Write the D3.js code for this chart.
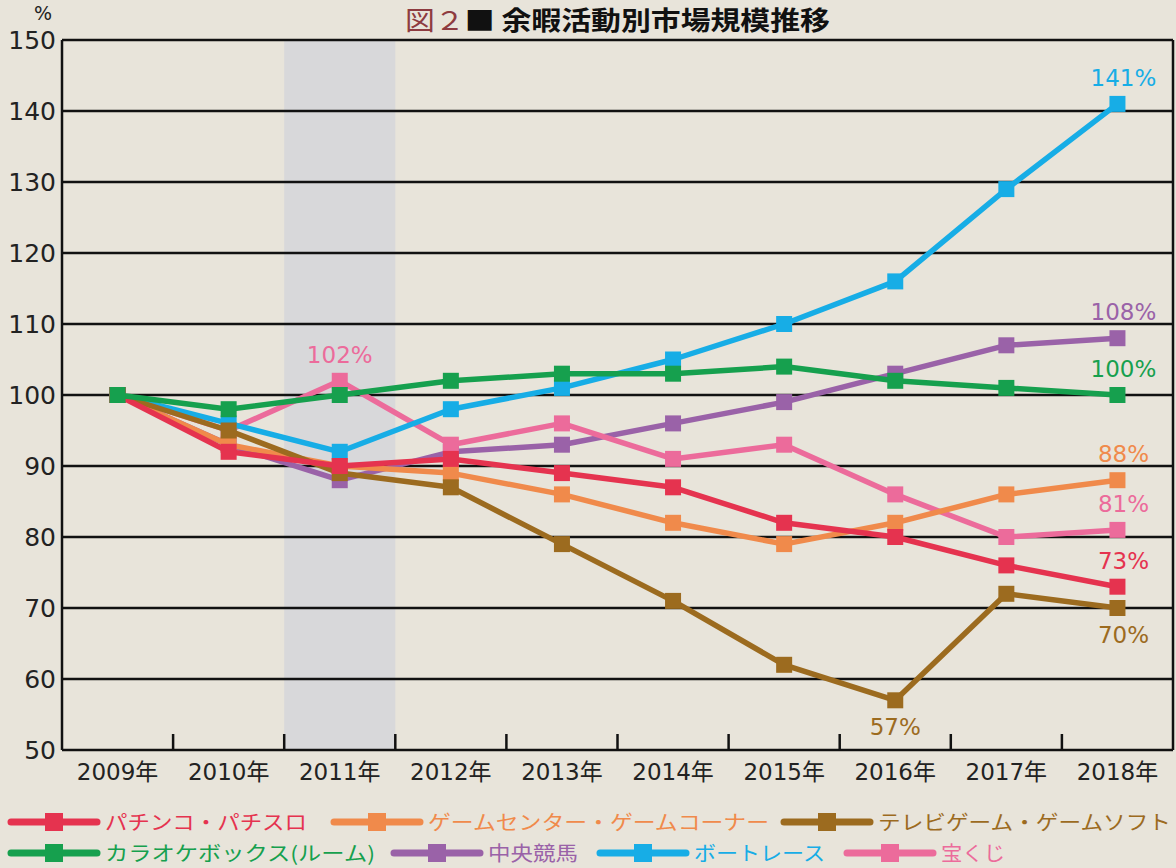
<!DOCTYPE html>
<html lang="ja">
<head>
<meta charset="utf-8">
<script src="https://cdn.jsdelivr.net/npm/d3@7"></script>
<style>
  body { margin: 0; background: #e8e4da; }
  svg { display: block; font-family: "Noto Sans CJK JP", "Noto Sans", sans-serif; }
  .num { font-family: "DejaVu Sans", "Noto Sans CJK JP", sans-serif; }
</style>
</head>
<body>
<script>
var W = 1176, H = 868;

// data
var years = ["2009年","2010年","2011年","2012年","2013年","2014年","2015年","2016年","2017年","2018年"];
var yTicks = [50,60,70,80,90,100,110,120,130,140,150];

var pachinko  = [100, 92, 90, 91, 89, 87, 82, 80, 76, 73];
var gameCenter = [100, 93, 90, 89, 86, 82, 79, 82, 86, 88];
var tvGame    = [100, 95, 89, 87, 79, 71, 62, 57, 72, 70];
var karaoke   = [100, 98, 100, 102, 103, 103, 104, 102, 101, 100];
var keiba     = [100, 93, 88, 92, 93, 96, 99, 103, 107, 108];
var boat      = [100, 96, 92, 98, 101, 105, 110, 116, 129, 141];
var takarakuji = [100, 95, 102, 93, 96, 91, 93, 86, 80, 81];

var seriesNames = ["パチンコ・パチスロ","ゲームセンター・ゲームコーナー","テレビゲーム・ゲームソフト",
                   "カラオケボックス(ルーム)","中央競馬","ボートレース","宝くじ"];
var seriesColors = ["#e5334f","#f08a4b","#9c6b1f","#16a04e","#9a62a8","#17ade6","#ec6b9b"];
var seriesValues = [pachinko, gameCenter, tvGame, karaoke, keiba, boat, takarakuji];

// value labels: [series index, year index, above/below]
var labels = [
  [5, 9, "above"], [4, 9, "above"], [3, 9, "above"], [1, 9, "above"],
  [6, 9, "above"], [0, 9, "above"], [2, 9, "below"], [2, 7, "below"], [6, 2, "above"]
];

var plotL = 62, plotR = 1173, plotT = 40, plotB = 750;

var svg = d3.select("body").append("svg").attr("width", W).attr("height", H);

var x = d3.scaleBand().domain(years).range([plotL, plotR]);
var y = d3.scaleLinear().domain([50, 150]).range([plotB, plotT]);

// shaded 2011
svg.append("rect")
  .attr("x", x("2011年")).attr("y", plotT)
  .attr("width", x.bandwidth()).attr("height", plotB - plotT)
  .attr("fill", "#d8d8da");

// gridlines
svg.selectAll("line.grid")
  .data(yTicks.filter(function(d){ return d > 50; }))
  .enter().append("line")
  .attr("class", "grid")
  .attr("x1", plotL).attr("x2", plotR)
  .attr("y1", function(d){ return y(d); })
  .attr("y2", function(d){ return y(d); })
  .attr("stroke", "#111").attr("stroke-width", 2.5);

// frame
svg.append("line").attr("x1", plotL).attr("x2", plotL).attr("y1", plotT).attr("y2", plotB)
  .attr("stroke", "#111").attr("stroke-width", 2.5);
svg.append("line").attr("x1", plotR).attr("x2", plotR).attr("y1", plotT).attr("y2", plotB)
  .attr("stroke", "#111").attr("stroke-width", 2.5);
svg.append("line").attr("x1", plotL).attr("x2", plotR).attr("y1", plotB).attr("y2", plotB)
  .attr("stroke", "#111").attr("stroke-width", 2.5);

// x ticks at band boundaries
svg.selectAll("line.xtick")
  .data(years.slice(1))
  .enter().append("line")
  .attr("class", "xtick")
  .attr("x1", function(d){ return x(d); })
  .attr("x2", function(d){ return x(d); })
  .attr("y1", plotB).attr("y2", plotB - 16)
  .attr("stroke", "#111").attr("stroke-width", 2.5);

// y labels
svg.selectAll("text.ylab")
  .data(yTicks)
  .enter().append("text")
  .attr("class", "ylab num")
  .attr("x", 56).attr("y", function(d){ return y(d) + 9; })
  .attr("text-anchor", "end")
  .attr("font-size", 25)
  .attr("fill", "#222")
  .text(function(d){ return d; });

svg.append("text").attr("class", "num").attr("x", 43).attr("y", 20).attr("text-anchor", "middle")
  .attr("font-size", 19).attr("fill", "#222").text("%");

// x labels
svg.selectAll("text.xlab")
  .data(years)
  .enter().append("text")
  .attr("class", "xlab num")
  .attr("x", function(d){ return x(d) + x.bandwidth() / 2; })
  .attr("y", 780)
  .attr("text-anchor", "middle")
  .attr("font-size", 23)
  .attr("fill", "#222")
  .text(function(d){ return d; });

// title
var title = svg.append("text").attr("x", 405).attr("y", 30)
  .attr("font-size", 26).attr("font-weight", "bold")
  .attr("textLength", 425).attr("lengthAdjust", "spacingAndGlyphs");
title.append("tspan").attr("fill", "#8e3b40").attr("font-weight", "normal").text("図２");
title.append("tspan").attr("fill", "#111").text("■ 余暇活動別市場規模推移");

// lines
var line = d3.line()
  .x(function(d, i){ return x(years[i]) + x.bandwidth() / 2; })
  .y(function(d){ return y(d); });

var order = [4, 6, 5, 1, 2, 0, 3];
var groups = svg.selectAll("g.series")
  .data(order)
  .enter().append("g")
  .attr("class", "series");

groups.append("path")
  .attr("d", function(s){ return line(seriesValues[s]); })
  .attr("fill", "none")
  .attr("stroke", function(s){ return seriesColors[s]; })
  .attr("stroke-width", 5.5)
  .attr("stroke-linejoin", "round");

groups.selectAll("rect")
  .data(function(s){ return seriesValues[s].map(function(v, i){ return {s: s, v: v, i: i}; }); })
  .enter().append("rect")
  .attr("x", function(d){ return x(years[d.i]) + x.bandwidth() / 2 - 8; })
  .attr("y", function(d){ return y(d.v) - 8; })
  .attr("width", 16).attr("height", 16)
  .attr("fill", function(d){ return seriesColors[d.s]; });

// value labels
svg.selectAll("text.vlab")
  .data(labels)
  .enter().append("text")
  .attr("class", "vlab num")
  .attr("x", function(d){ return x(years[d[1]]) + x.bandwidth() / 2 + (d[1] === 9 ? 6 : 0); })
  .attr("y", function(d){
    var v = seriesValues[d[0]][d[1]];
    return d[2] === "above" ? y(v) - 18 : y(v) + 35;
  })
  .attr("text-anchor", "middle")
  .attr("font-size", 23)
  .attr("fill", function(d){ return seriesColors[d[0]]; })
  .text(function(d){ return seriesValues[d[0]][d[1]] + "%"; });

// legend
var legendPos = [[11, 822], [334, 822], [784, 822], [11, 853], [394, 853], [600, 853], [847, 853]];
var legendTextW = [202, 341, 293, 270, 90, 131, 64];
var leg = svg.selectAll("g.legend")
  .data(seriesNames)
  .enter().append("g")
  .attr("class", "legend")
  .attr("transform", function(d, i){ return "translate(" + legendPos[i][0] + "," + legendPos[i][1] + ")"; });

leg.append("line").attr("x1", 0).attr("x2", 86).attr("y1", 0).attr("y2", 0)
  .attr("stroke", function(d, i){ return seriesColors[i]; }).attr("stroke-width", 7)
  .attr("stroke-linecap", "round");
leg.append("rect").attr("x", 34).attr("y", -9).attr("width", 18).attr("height", 18)
  .attr("fill", function(d, i){ return seriesColors[i]; });
leg.append("text").attr("x", 94).attr("y", 8)
  .attr("font-size", 20)
  .attr("textLength", function(d, i){ return legendTextW[i]; })
  .attr("lengthAdjust", "spacingAndGlyphs")
  .attr("fill", function(d, i){ return seriesColors[i]; })
  .text(function(d){ return d; });
</script>
</body>
</html>
